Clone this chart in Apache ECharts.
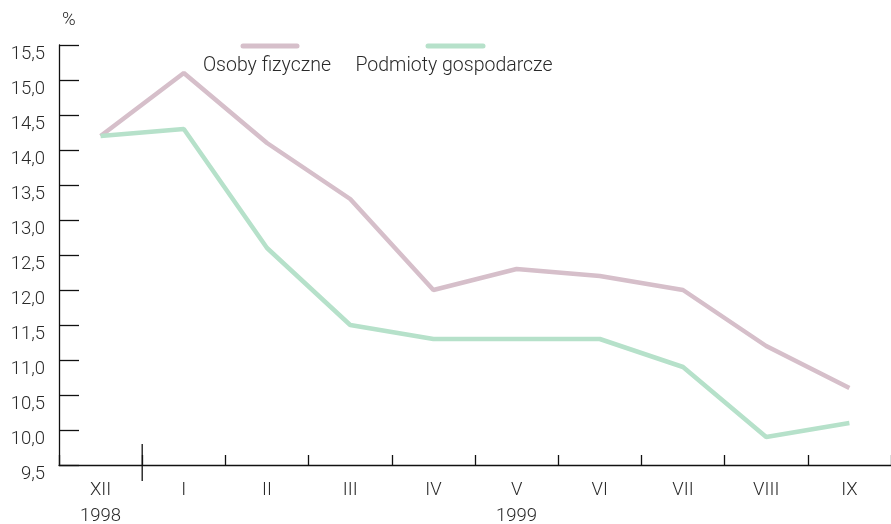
<!DOCTYPE html>
<html><head><meta charset="utf-8">
<script src="https://cdn.jsdelivr.net/npm/echarts@6/dist/echarts.min.js"></script>
<style>html,body{margin:0;padding:0;background:#fff}#c{width:891px;height:524px}</style>
</head><body><div id="c"></div>
<script>
const categories = ['XII','I','II','III','IV','V','VI','VII','VIII','IX'];
const osobyFizyczne = [14.2, 15.1, 14.1, 13.3, 12.0, 12.3, 12.2, 12.0, 11.2, 10.6];
const podmiotyGospodarcze = [14.2, 14.3, 12.6, 11.5, 11.3, 11.3, 11.3, 10.9, 9.9, 10.1];
const seriesNames = ['Osoby fizyczne', 'Podmioty gospodarcze'];
const yearLabels = [{cat: 'XII', text: '1998'}, {cat: 'V', text: '1999'}];
const yMin = 9.5, yMax = 15.5, yStep = 0.5;

const FONT = 'Roboto';
const FS = 18.5;
const LFS = 19.5;
const TXT = '#2a2a2a';
const PINK = '#d6bfca';
const GREEN = '#b6e1ca';
const chart = echarts.init(document.getElementById('c'));
const option = {
  animation: false,
  grid: {left: 59, top: 45, width: 840, height: 420, containLabel: false},
  xAxis: {
    type: 'category', data: categories, boundaryGap: true,
    axisLine: {show: true, lineStyle: {color: '#111', width: 1.3}},
    axisTick: {show: true, inside: true, length: 10, interval: 0, lineStyle: {color: '#111', width: 1.3}},
    axisLabel: {color: TXT, fontFamily: FONT, fontSize: FS, fontWeight: 300, margin: 16, interval: 0}
  },
  yAxis: {
    type: 'value', min: yMin, max: yMax, interval: yStep,
    name: '%', nameLocation: 'end', nameGap: 15,
    nameTextStyle: {color: TXT, fontFamily: FONT, fontSize: FS, fontWeight: 300, align: 'left', padding: [0,0,0,3]},
    axisLine: {show: true, lineStyle: {color: '#111', width: 1.3}},
    axisTick: {show: true, inside: true, length: 20, lineStyle: {color: '#111', width: 1.3}},
    splitLine: {show: false},
    axisLabel: {color: TXT, fontFamily: FONT, fontSize: FS, fontWeight: 300, margin: 14,
      verticalAlign: 'top', padding: [0,0,0,0],
      formatter: v => v.toFixed(1).replace('.', ',')}
  },
  series: [
    {name: seriesNames[0], type: 'line', data: osobyFizyczne, symbol: 'none',
     lineStyle: {color: PINK, width: 4.5}, itemStyle: {color: PINK}},
    {name: seriesNames[1], type: 'line', data: podmiotyGospodarcze, symbol: 'none',
     lineStyle: {color: GREEN, width: 4.5}, itemStyle: {color: GREEN}}
  ]
};
chart.setOption(option);

const p0 = chart.convertToPixel({xAxisIndex: 0, yAxisIndex: 0}, [0, yMin]);
const p1 = chart.convertToPixel({xAxisIndex: 0, yAxisIndex: 0}, [1, yMin]);
const sepX = (p0[0] + p1[0]) / 2;
const axisY = p0[1];
const graphics = [
  {type: 'line', shape: {x1: sepX, y1: axisY - 21, x2: sepX, y2: axisY + 16}, style: {stroke: '#111', lineWidth: 1.3}},
  {type: 'line', shape: {x1: 243, y1: 46, x2: 297, y2: 46}, style: {stroke: PINK, lineWidth: 5, lineCap: 'round'}},
  {type: 'line', shape: {x1: 428, y1: 46, x2: 483, y2: 46}, style: {stroke: GREEN, lineWidth: 5, lineCap: 'round'}},
  {type: 'text', x: 267, y: 66, style: {text: seriesNames[0], fill: TXT, font: '300 ' + LFS + 'px ' + FONT, align: 'center', verticalAlign: 'middle'}},
  {type: 'text', x: 454, y: 66, style: {text: seriesNames[1], fill: TXT, font: '300 ' + LFS + 'px ' + FONT, align: 'center', verticalAlign: 'middle'}}
];
yearLabels.forEach(y => {
  const idx = categories.indexOf(y.cat);
  const px = chart.convertToPixel({xAxisIndex: 0}, idx);
  graphics.push({type: 'text', x: px, y: axisY + 51, style: {text: y.text, fill: TXT, font: '300 ' + FS + 'px ' + FONT, align: 'center', verticalAlign: 'middle'}});
});
chart.setOption({graphic: graphics});
</script></body></html>
